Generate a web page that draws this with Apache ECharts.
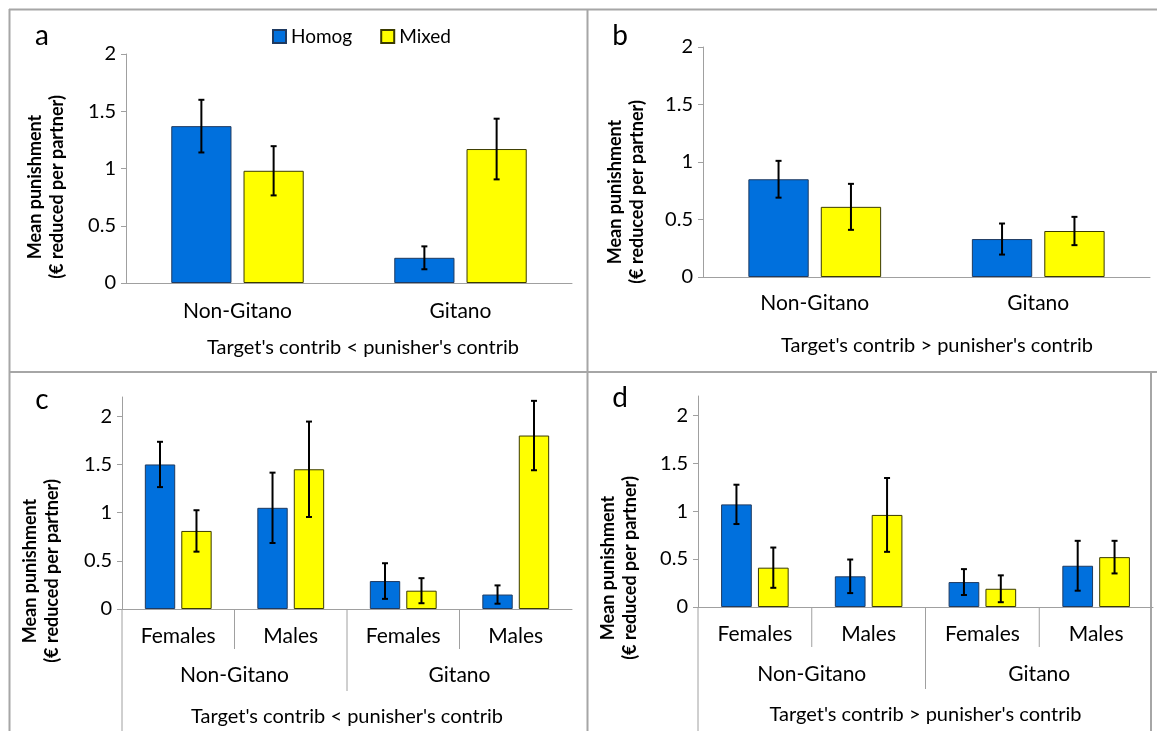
<!DOCTYPE html>
<html>
<head>
<meta charset="utf-8">
<title>Mean punishment by group composition</title>
<script src="https://cdn.jsdelivr.net/npm/echarts@6/dist/echarts.min.js"></script>
<style>
  html, body { margin: 0; padding: 0; background: #fff; }
  #main { width: 1157px; height: 731px; }
</style>
</head>
<body>
<div id="main"></div>
<script>
// ---- data ----
var seriesNames = ['Homog', 'Mixed'];
var groupCats = ['Non-Gitano', 'Gitano'];
var sexCats = ['Females', 'Males', 'Females', 'Males'];
var yTicks = [0, 0.5, 1, 1.5, 2];
var yTitle = 'Mean punishment\n(€ reduced per partner)';
var subLess = "Target's contrib < punisher's contrib";
var subMore = "Target's contrib > punisher's contrib";

// a: target < punisher, by ethnicity
var aHomog = [1.37, 0.22];
var aHomogSE = [0.23, 0.10];
var aMixed = [0.98, 1.17];
var aMixedSE = [0.215, 0.265];
// b: target > punisher, by ethnicity
var bHomog = [0.85, 0.33];
var bHomogSE = [0.16, 0.135];
var bMixed = [0.61, 0.40];
var bMixedSE = [0.20, 0.123];
// c: target < punisher, by ethnicity and sex
var cHomog = [1.50, 1.05, 0.29, 0.15];
var cHomogSE = [0.235, 0.365, 0.185, 0.095];
var cMixed = [0.81, 1.45, 0.19, 1.80];
var cMixedSE = [0.215, 0.495, 0.13, 0.36];
// d: target > punisher, by ethnicity and sex
var dHomog = [1.07, 0.32, 0.26, 0.43];
var dHomogSE = [0.205, 0.175, 0.135, 0.26];
var dMixed = [0.41, 0.96, 0.19, 0.52];
var dMixedSE = [0.21, 0.385, 0.14, 0.17];

var FONT = 'Lato, "Liberation Sans", sans-serif';
var AXIS_GRAY = '#a0a0a0';
var BAR_RATIO = 0.27;
var GAP_RATIO = 0.2;
var colors = { Homog: '#0070dd', Mixed: '#ffff00' };
var borders = { Homog: '#1f3a60', Mixed: '#3a3a00' };

var chart = echarts.init(document.getElementById('main'));

function errData(means, ses) {
    return means.map(function (m, i) { return [i, m - ses[i], m + ses[i]]; });
}

// side: -1 left bar of the pair, +1 right bar
function errRender(side) {
    return function (params, api) {
        var band = api.size([1, 0])[0];
        var bw = band * BAR_RATIO;
        var x = api.coord([api.value(0), 0])[0] + side * bw * (1 + GAP_RATIO) / 2;
        var lo = api.coord([api.value(0), api.value(1)])[1];
        var hi = api.coord([api.value(0), api.value(2)])[1];
        var st = { stroke: '#000', lineWidth: 2 };
        return {
            type: 'group',
            children: [
                { type: 'line', shape: { x1: x, y1: lo, x2: x, y2: hi }, style: st },
                { type: 'line', shape: { x1: x - 3, y1: lo, x2: x + 3, y2: lo }, style: st },
                { type: 'line', shape: { x1: x - 3, y1: hi, x2: x + 3, y2: hi }, style: st }
            ]
        };
    };
}

function panelSeries(xIdx, yIdx, homog, homogSE, mixed, mixedSE) {
    var out = [];
    [['Homog', homog, homogSE, -1], ['Mixed', mixed, mixedSE, 1]].forEach(function (s) {
        out.push({
            type: 'bar', name: s[0], xAxisIndex: xIdx, yAxisIndex: yIdx,
            data: s[1], barWidth: (BAR_RATIO * 100) + '%', barGap: (GAP_RATIO * 100) + '%',
            itemStyle: { color: colors[s[0]], borderColor: borders[s[0]], borderWidth: 1 }
        });
    });
    [['Homog', homog, homogSE, -1], ['Mixed', mixed, mixedSE, 1]].forEach(function (s) {
        out.push({
            type: 'custom', name: s[0] + ' err', xAxisIndex: xIdx, yAxisIndex: yIdx,
            data: errData(s[1], s[2]), encode: { x: 0, y: [1, 2] },
            renderItem: errRender(s[3]), z: 3, silent: true
        });
    });
    return out;
}

function yAxisOf(gridIndex, max) {
    var ax = {
        type: 'value', gridIndex: gridIndex, min: 0, max: max,
        axisLine: { show: true, lineStyle: { color: AXIS_GRAY, width: 1 } },
        axisTick: { show: true, length: 5, lineStyle: { color: AXIS_GRAY } },
        axisLabel: { color: '#000', fontSize: 20, fontFamily: FONT, margin: 10 },
        splitLine: { show: false }
    };
    if (max === 2) {
        ax.interval = 0.5;
    } else {
        ax.axisLabel.customValues = yTicks;
        ax.axisTick.customValues = yTicks;
    }
    return ax;
}

var baseLabel = { color: '#000', fontSize: 21, fontFamily: FONT, interval: 0 };
var nameStyle = { color: '#000', fontSize: 20, fontFamily: FONT };

var option = {
    backgroundColor: '#ffffff',
    animation: false,
    textStyle: { fontFamily: FONT },
    legend: {
        data: seriesNames, left: 272, top: 27, padding: 0,
        itemWidth: 13, itemHeight: 13, itemGap: 28, icon: 'rect',
        textStyle: { color: '#000', fontSize: 19, fontFamily: FONT }
    },
    grid: [
        { left: 126, top: 54, width: 446, height: 229 },
        { left: 703, top: 47, width: 447, height: 230 },
        { left: 122, top: 397, width: 450, height: 212 },
        { left: 698, top: 396, width: 455, height: 211 }
    ],
    xAxis: [
        {   // a
            type: 'category', gridIndex: 0, data: groupCats,
            axisLine: { lineStyle: { color: AXIS_GRAY } },
            axisTick: { length: 7, lineStyle: { color: AXIS_GRAY } },
            axisLabel: Object.assign({ margin: 18 }, baseLabel),
            name: subLess, nameLocation: 'middle', nameGap: 55,
            nameTextStyle: Object.assign({ padding: [0, 0, 0, 28] }, nameStyle)
        },
        {   // b
            type: 'category', gridIndex: 1, data: groupCats,
            axisLine: { lineStyle: { color: AXIS_GRAY } },
            axisTick: { length: 7, lineStyle: { color: AXIS_GRAY } },
            axisLabel: Object.assign({ margin: 16 }, baseLabel),
            name: subMore, nameLocation: 'middle', nameGap: 59,
            nameTextStyle: Object.assign({ padding: [0, 0, 0, 21] }, nameStyle)
        },
        {   // c level 1
            type: 'category', gridIndex: 2, data: sexCats, position: 'bottom',
            axisLine: { lineStyle: { color: AXIS_GRAY } },
            axisTick: { show: false },
            axisLabel: Object.assign({ margin: 17 }, baseLabel)
        },
        {   // c level 2 + title
            type: 'category', gridIndex: 2, data: groupCats, position: 'bottom',
            axisLine: { show: false }, axisTick: { show: false },
            axisLabel: Object.assign({ margin: 56 }, baseLabel),
            name: subLess, nameLocation: 'middle', nameGap: 98, nameTextStyle: nameStyle
        },
        {   // d level 1
            type: 'category', gridIndex: 3, data: sexCats, position: 'bottom',
            axisLine: { lineStyle: { color: AXIS_GRAY } },
            axisTick: { show: false },
            axisLabel: Object.assign({ margin: 17 }, baseLabel)
        },
        {   // d level 2 + title
            type: 'category', gridIndex: 3, data: groupCats, position: 'bottom',
            axisLine: { show: false }, axisTick: { show: false },
            axisLabel: Object.assign({ margin: 57 }, baseLabel),
            name: subMore, nameLocation: 'middle', nameGap: 98, nameTextStyle: nameStyle
        }
    ],
    yAxis: [yAxisOf(0, 2), yAxisOf(1, 2), yAxisOf(2, 2.2), yAxisOf(3, 2.2)],
    series: [].concat(
        panelSeries(0, 0, aHomog, aHomogSE, aMixed, aMixedSE),
        panelSeries(1, 1, bHomog, bHomogSE, bMixed, bMixedSE),
        panelSeries(2, 2, cHomog, cHomogSE, cMixed, cMixedSE),
        panelSeries(4, 3, dHomog, dHomogSE, dMixed, dMixedSE)
    )
};

chart.setOption(option);

// ---- frames, letters, y titles and the multi-level axis dividers ----
var frame = { stroke: '#a6a6a6', lineWidth: 2 };
var thin = { stroke: AXIS_GRAY, lineWidth: 1 };
var graphics = [];

function hline(x1, x2, y, st) { graphics.push({ type: 'line', shape: { x1: x1, y1: y, x2: x2, y2: y }, style: st, silent: true }); }
function vline(x, y1, y2, st) { graphics.push({ type: 'line', shape: { x1: x, y1: y1, x2: x, y2: y2 }, style: st, silent: true }); }

hline(9, 1157, 9.5, frame);
hline(9, 1157, 372, frame);
vline(9.5, 9, 731, frame);
vline(587.5, 9, 731, frame);
vline(1151, 372, 731, frame);

[['a', 42, 36], ['b', 620, 36], ['c', 42, 400], ['d', 620, 398]].forEach(function (l) {
    graphics.push({
        type: 'text', x: l[1], y: l[2], silent: true,
        style: { text: l[0], font: '28px ' + FONT, fill: '#000', textAlign: 'center', textVerticalAlign: 'middle' }
    });
});

[[46, 187], [626, 192], [41, 571], [619, 568]].forEach(function (p) {
    graphics.push({
        type: 'text', x: p[0], y: p[1], rotation: Math.PI / 2, silent: true,
        style: {
            text: yTitle, font: 'bold 18px ' + FONT, fill: '#000',
            textAlign: 'center', textVerticalAlign: 'middle', lineHeight: 22
        }
    });
});

// dividers below the two-level category axes of c and d
[[2, 2, 40, 82], [4, 3, 40, 82]].forEach(function (cfg) {
    var x0 = chart.convertToPixel({ xAxisIndex: cfg[0] }, 0);
    var x1 = chart.convertToPixel({ xAxisIndex: cfg[0] }, 1);
    var band = x1 - x0;
    var y0 = chart.convertToPixel({ yAxisIndex: cfg[1] }, 0);
    for (var i = 0; i < sexCats.length; i++) {
        var bx = chart.convertToPixel({ xAxisIndex: cfg[0] }, i) - band / 2;
        if (i === 0) vline(bx, y0, 731, thin);
        else if (i === sexCats.length / 2) vline(bx, y0, y0 + cfg[3], thin);
        else vline(bx, y0, y0 + cfg[2], thin);
    }
});

chart.setOption({ graphic: graphics });
</script>
</body>
</html>
